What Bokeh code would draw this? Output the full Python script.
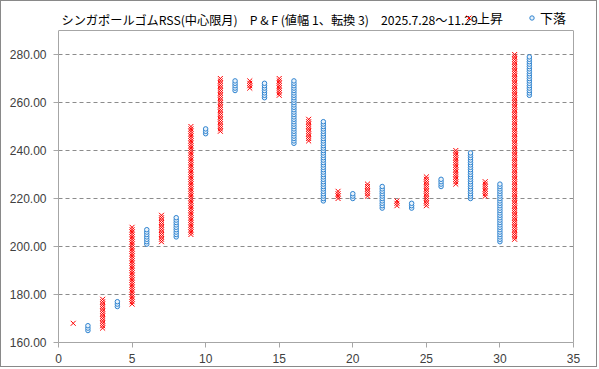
from bokeh.plotting import figure
from bokeh.models import FixedTicker, Label, Legend, LegendItem, Range1d, LinearAxis, Span
from bokeh.embed import file_html
from bokeh.resources import INLINE

# ---- data (P&F columns: kind, low box, high box) ----
columns = list(range(1, 33))
kinds = ["X", "O", "X", "O", "X", "O", "X", "O", "X", "O",
         "X", "O", "X", "O", "X", "O", "X", "O", "X", "O",
         "X", "O", "X", "O", "X", "O", "X", "O", "X", "O",
         "X", "O"]
lows = [168, 165, 166, 175, 176, 201, 202, 204, 205, 247,
        248, 265, 266, 262, 263, 243, 244, 219, 220, 220,
        221, 216, 217, 216, 217, 225, 226, 220, 221, 202,
        203, 263]
highs = [168, 167, 178, 177, 208, 207, 213, 212, 250, 249,
         270, 269, 269, 268, 270, 269, 253, 252, 223, 222,
         226, 225, 219, 218, 229, 228, 240, 239, 227, 226,
         280, 279]
box_size = 1

x_min, x_max = 0, 35
y_min, y_max = 160, 290
x_ticks = [0, 5, 10, 15, 20, 25, 30, 35]
x_tick_labels = ["0", "5", "10", "15", "20", "25", "30", "35"]
y_ticks = [160, 180, 200, 220, 240, 260, 280]
y_tick_labels = ["160.00", "180.00", "200.00", "220.00", "240.00", "260.00", "280.00"]

title_text = "シンガポールゴムRSS(中心限月)\u3000P & F (値幅 1、転換 3)\u30002025.7.28～11.29"
label_up = "上昇"
label_down = "下落"

# expand columns into boxes
x_up, y_up, x_dn, y_dn = [], [], [], []
for c, k, lo, hi in zip(columns, kinds, lows, highs):
    v = lo
    while v <= hi:
        if k == "X":
            x_up.append(c); y_up.append(v)
        else:
            x_dn.append(c); y_dn.append(v)
        v += box_size

# frame extends to the top of the canvas so the title and legend can live inside it
W, H = 597, 367
left, right, bottom = 57, 25, 26
frame_h = H - bottom
px_per_unit = 2.4
y_top = y_min + frame_h / px_per_unit

GRAY = "#a6a6a6"
p = figure(width=W, height=H, output_backend="svg", toolbar_location=None,
           x_range=Range1d(x_min, x_max), y_range=Range1d(y_min, y_top),
           min_border_left=left, min_border_right=right, min_border_top=0,
           min_border_bottom=bottom)
p.styles = {"border": "1px solid #898989"}
p.background_fill_color = "white"
p.border_fill_color = "white"
p.outline_line_color = None

rx = p.scatter(x_up, y_up, marker="x", size=7, line_color="#ff0000", line_width=1)
ro = p.scatter(x_dn, y_dn, marker="circle", size=4.5, line_color="#2e83d0",
               fill_color="#eaf3fb", line_width=1)

p.xaxis.ticker = FixedTicker(ticks=x_ticks)
p.xaxis.major_label_overrides = {t: l for t, l in zip(x_ticks, x_tick_labels)}
p.yaxis.ticker = FixedTicker(ticks=y_ticks)
p.yaxis.major_label_overrides = {t: l for t, l in zip(y_ticks, y_tick_labels)}
p.yaxis.bounds = (y_min, y_max)

for ax in (p.xaxis[0], p.yaxis[0]):
    ax.axis_line_color = GRAY
    ax.major_tick_line_color = GRAY
    ax.major_tick_out = 5
    ax.major_tick_in = 0
    ax.minor_tick_line_color = None
    ax.major_label_text_font = "Liberation Sans"
    ax.major_label_text_font_size = "12px"
    ax.major_label_text_color = "#404040"
p.xaxis.major_label_standoff = 6
p.yaxis.major_label_standoff = 7

# right and top edges of the plot area
right_edge = LinearAxis(bounds=(y_min, y_max), axis_line_color=GRAY,
                        major_tick_line_color=None, minor_tick_line_color=None,
                        major_label_text_font_size="0px", ticker=FixedTicker(ticks=[]))
p.add_layout(right_edge, "right")
p.add_layout(Span(location=y_max, dimension="width", line_color=GRAY, line_width=1))

p.xgrid.grid_line_color = None
p.ygrid.grid_line_color = "#8c8c8c"
p.ygrid.grid_line_dash = "4 3"
p.ygrid.grid_line_width = 1

title = Label(x=3, y=frame_h - 18, x_units="screen", y_units="screen", text=title_text,
              text_font="Noto Sans CJK JP", text_font_size="12.2px", text_color="#000000",
              text_baseline="middle")
p.add_layout(title)

common = dict(orientation="horizontal", padding=0, margin=0, border_line_color=None,
              background_fill_alpha=0, label_text_font="Noto Sans CJK JP",
              label_text_font_size="13px", label_text_color="#000000")
legend_up = Legend(items=[LegendItem(label=label_up, renderers=[rx])],
                   location=(402, frame_h - 26), glyph_width=17, glyph_height=17,
                   label_standoff=0, **common)
legend_dn = Legend(items=[LegendItem(label=label_down, renderers=[ro])],
                   location=(468, frame_h - 26), glyph_width=11, glyph_height=11,
                   label_standoff=3, **common)
p.add_layout(legend_up, "center")
p.add_layout(legend_dn, "center")

open("out.html", "w").write(file_html(p, INLINE))
